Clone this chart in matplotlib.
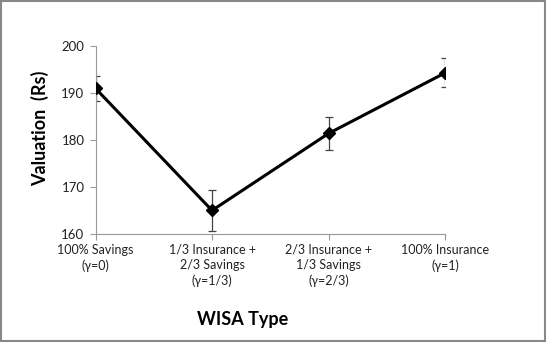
import numpy as np
import matplotlib.pyplot as plt

categories = ["100% Savings\n(\u03b3=0)",
              "1/3 Insurance +\n2/3 Savings\n(\u03b3=1/3)",
              "2/3 Insurance +\n1/3 Savings\n(\u03b3=2/3)",
              "100% Insurance\n(\u03b3=1)"]
valuation = [191.0, 165.0, 181.4, 194.3]
errors = [2.6, 4.3, 3.6, 3.1]
yticks = [160, 170, 180, 190, 200]

plt.rcParams['font.family'] = ['Lato', 'DejaVu Sans']

fig = plt.figure(figsize=(5.46, 3.42), dpi=100)
ax = fig.add_axes([0.175, 0.316, 0.640, 0.549])
x = np.arange(len(categories))

ax.errorbar(x, valuation, yerr=errors, fmt='none', ecolor='#444444',
            elinewidth=0.9, capsize=3, capthick=0.9, zorder=2)
ax.plot(x, valuation, '-D', color='black', lw=2.2, markersize=6.5, zorder=3)

ax.set_xlim(0, 3)
ax.set_ylim(160, 200)
ax.set_yticks(yticks)
ax.set_xticks(x)
ax.set_xticklabels(categories, fontsize=9, color='#222222', linespacing=1.35)
ax.tick_params(axis='y', labelsize=9.5, colors='#999999', labelcolor='#222222',
               length=4, width=0.8, pad=4)
ax.tick_params(axis='x', colors='#999999', labelcolor='#222222',
               length=4, width=0.8, pad=3)
for s in ['top', 'right']:
    ax.spines[s].set_visible(False)
for s in ['left', 'bottom']:
    ax.spines[s].set_color('#999999')
    ax.spines[s].set_linewidth(0.8)

fig.text(0.073, 0.625, 'Valuation  (Rs)', rotation=90, ha='center', va='center',
         fontsize=13, fontweight='bold')
fig.text(0.445, 0.065, 'WISA Type', ha='center', va='center',
         fontsize=13, fontweight='bold')

# thin grey border round the picture
fig.patches.append(plt.Rectangle((0.002, 0.003), 0.996, 0.994, transform=fig.transFigure,
                                 fill=False, edgecolor='#888888', lw=1.5))

fig.savefig('out.png', dpi=100)
